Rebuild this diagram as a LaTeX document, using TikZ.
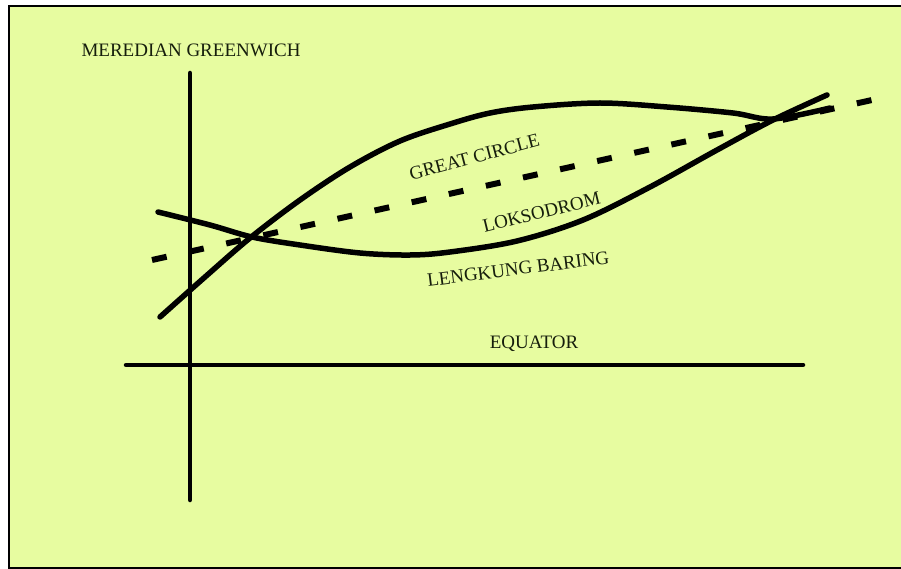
\documentclass[tikz,border=0pt]{standalone}
\usepackage{fontspec}
\setmainfont{Liberation Serif}
\definecolor{paper}{RGB}{231,252,160}
\definecolor{ink}{RGB}{22,30,12}

\begin{document}
\begin{tikzpicture}[x=1pt,y=-1pt,
 axis/.style={line width=4.5pt,line cap=round},
 route/.style={line width=5.5pt,line cap=round,line join=round},
 rhumb/.style={line width=6pt,dash pattern=on 15pt off 23pt},
 lbl/.style={font=\fontsize{19}{21}\selectfont,text=ink,inner sep=0pt,anchor=base}]
\useasboundingbox (0,0) rectangle (901,569);
\fill[white] (0,0) rectangle (901,569);
\fill[paper] (9,6) rectangle (901,568);
\draw[line width=2pt] (901,6) -- (9,6) -- (9,568) -- (901,568);
\coordinate (mtop) at (190,73);
\coordinate (mbot) at (190,500);
\coordinate (ewest) at (126,365);
\coordinate (eeast) at (803,365);
\draw[axis] (mtop) -- (mbot);
\draw[axis] (ewest) -- (eeast);
\coordinate (lokw) at (152,260);
\coordinate (loke) at (872,100);
\draw[rhumb] (lokw) -- (loke);
\draw[route] plot[smooth,tension=0.55] coordinates {(160,317) (205,277) (250,238) (300,200) (350,167) (400,141) (450,124) (490,113) (533,107) (600,103) (667,107) (733,113) (773,119) (830,108)};
\draw[route] plot[smooth,tension=0.55] coordinates {(158,212) (210,225) (252,237) (300,245) (360,253) (410,255) (450,252) (517,241) (583,220) (650,187) (717,150) (773,120) (827,95)};
\node[lbl] (mer) at (191,57) {MEREDIAN GREENWICH};
\node[lbl] (equ) at (534,348) {EQUATOR};
\node[lbl,rotate=14.9] (gc) at (476,163) {GREAT CIRCLE};
\node[lbl,rotate=13.7] (lok) at (543,218) {LOKSODROM};
\node[lbl,rotate=7.2] (lb) at (519,275) {LENGKUNG BARING};
\end{tikzpicture}
\end{document}
